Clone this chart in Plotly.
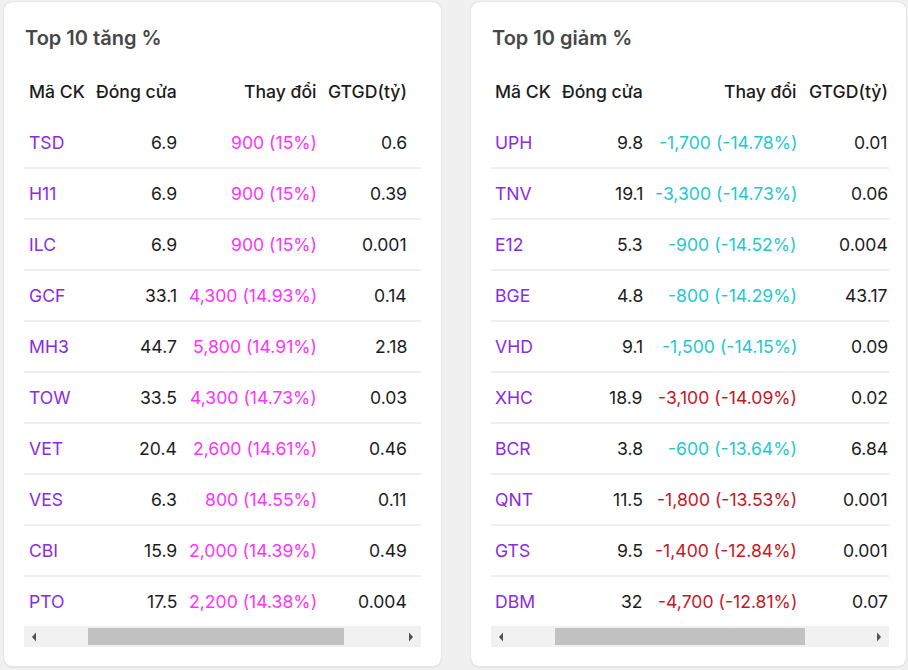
import plotly.graph_objects as go

# ---------------- data ----------------
titles = ["Top 10 tăng %", "Top 10 giảm %"]
headers = ["Mã CK", "Đóng cửa", "Thay đổi", "GTGD(tỷ)"]

up_codes = ["TSD", "H11", "ILC", "GCF", "MH3", "TOW", "VET", "VES", "CBI", "PTO"]
up_close = [6.9, 6.9, 6.9, 33.1, 44.7, 33.5, 20.4, 6.3, 15.9, 17.5]
up_change = [900, 900, 900, 4300, 5800, 4300, 2600, 800, 2000, 2200]
up_pct = [15, 15, 15, 14.93, 14.91, 14.73, 14.61, 14.55, 14.39, 14.38]
up_value = [0.6, 0.39, 0.001, 0.14, 2.18, 0.03, 0.46, 0.11, 0.49, 0.004]
up_kind = ["ceil"] * 10

down_codes = ["UPH", "TNV", "E12", "BGE", "VHD", "XHC", "BCR", "QNT", "GTS", "DBM"]
down_close = [9.8, 19.1, 5.3, 4.8, 9.1, 18.9, 3.8, 11.5, 9.5, 32]
down_change = [-1700, -3300, -900, -800, -1500, -3100, -600, -1800, -1400, -4700]
down_pct = [-14.78, -14.73, -14.52, -14.29, -14.15, -14.09, -13.64, -13.53, -12.84, -12.81]
down_value = [0.01, 0.06, 0.004, 43.17, 0.09, 0.02, 6.84, 0.001, 0.001, 0.07]
down_kind = ["floor", "floor", "floor", "floor", "floor", "down", "floor", "down", "down", "down"]

# ---------------- style ----------------
W, H = 908, 670
BG = "#f0f0f0"
FONT = "Inter"
KIND_COLOR = {"ceil": "#ff33ff", "floor": "#1fc8cf", "down": "#c8161d"}
CODE_COLOR = "#8a2be2"
TEXT_COLOR = "#1c1c1c"
SIZE = 17.6
PAD = 2  # annotation inner padding compensation

panels = [
    dict(codes=up_codes, close=up_close, change=up_change, pct=up_pct, value=up_value, kind=up_kind,
         card=(4, 441), left=24, right=421, cols=(29, 177, 317, 407), title_x=25, thumb=(88, 344)),
    dict(codes=down_codes, close=down_close, change=down_change, pct=down_pct, value=down_value, kind=down_kind,
         card=(471, 906), left=491, right=889, cols=(495, 643, 797, 888), title_x=492, thumb=(555, 805)),
]

# row index axis: row i centred at pixel 142 + 51*i
ROW0, STEP = 142.5, 51
y_top = -ROW0 / STEP
y_bot = (H - ROW0) / STEP


def yp(px):
    return 1 - px / H


def fmt(v):
    return f"{v:g}"


def fmt_change(c, p):
    return f"{c:,} ({p:g}%)"


fig = go.Figure()
fig.add_trace(go.Scatter(x=[0], y=[0], mode="markers", marker=dict(opacity=0), hoverinfo="skip", showlegend=False))

shapes = []
ann = []


def rrect(x0, x1, y0, y1, r):
    a, b = yp(y0), yp(y1)
    ry = r / H
    return (f"M {x0+r},{a} L {x1-r},{a} Q {x1},{a} {x1},{a-ry} L {x1},{b+ry} Q {x1},{b} {x1-r},{b} "
            f"L {x0+r},{b} Q {x0},{b} {x0},{b+ry} L {x0},{a-ry} Q {x0},{a} {x0+r},{a} Z")


for k, p in enumerate(panels):
    cx0, cx1 = p["card"]
    shapes.append(dict(type="path", xref="x", yref="paper", path=rrect(cx0 - 1, cx1 + 1, 1, 668, 11),
                       fillcolor="#e6e6e6", line=dict(width=0), layer="below"))
    shapes.append(dict(type="path", xref="x", yref="paper", path=rrect(cx0, cx1, 2, 666, 10),
                       fillcolor="white", line=dict(width=0), layer="below"))
    ann.append(dict(x=p["title_x"] - PAD, y=yp(37.5), xref="x", yref="paper", text=titles[k],
                    showarrow=False, xanchor="left", yanchor="middle",
                    font=dict(family=FONT, size=20, color="#474747", weight=600)))
    c0, c1, c2, c3 = p["cols"]
    xs = (c0 - PAD, c1 + PAD, c2 + PAD, c3 + PAD)
    for txt, xx, anc in zip(headers, xs, ("left", "right", "right", "right")):
        ann.append(dict(x=xx, y=-1, xref="x", yref="y", text=txt, showarrow=False, xanchor=anc, yanchor="middle",
                        font=dict(family=FONT, size=SIZE, color=TEXT_COLOR, weight=500)))
    for i in range(len(p["codes"])):
        ann.append(dict(x=xs[0], y=i, xref="x", yref="y", text=p["codes"][i], showarrow=False, xanchor="left",
                        yanchor="middle", font=dict(family=FONT, size=SIZE, color=CODE_COLOR)))
        ann.append(dict(x=xs[1], y=i, xref="x", yref="y", text=fmt(p["close"][i]), showarrow=False, xanchor="right",
                        yanchor="middle", font=dict(family=FONT, size=SIZE, color=TEXT_COLOR)))
        ann.append(dict(x=xs[2], y=i, xref="x", yref="y", text=fmt_change(p["change"][i], p["pct"][i]),
                        showarrow=False, xanchor="right", yanchor="middle",
                        font=dict(family=FONT, size=SIZE, color=KIND_COLOR[p["kind"][i]])))
        ann.append(dict(x=xs[3], y=i, xref="x", yref="y", text=fmt(p["value"][i]), showarrow=False, xanchor="right",
                        yanchor="middle", font=dict(family=FONT, size=SIZE, color=TEXT_COLOR)))
        if i < len(p["codes"]) - 1:
            shapes.append(dict(type="line", xref="x", yref="y", x0=p["left"], x1=p["right"], y0=i + 0.5, y1=i + 0.5,
                               line=dict(color="#dedede", width=1)))
    L, R = p["left"], p["right"]
    shapes.append(dict(type="rect", xref="x", yref="paper", x0=L, x1=R, y0=yp(647), y1=yp(626),
                       fillcolor="#f1f1f1", line=dict(width=0)))
    t0, t1 = p["thumb"]
    shapes.append(dict(type="rect", xref="x", yref="paper", x0=t0, x1=t1, y0=yp(645), y1=yp(628),
                       fillcolor="#c1c1c1", line=dict(width=0)))
    shapes.append(dict(type="path", xref="x", yref="paper",
                       path=f"M {L+12},{yp(632.5)} L {L+12},{yp(641.5)} L {L+8},{yp(637)} Z",
                       fillcolor="#505050", line=dict(width=0)))
    shapes.append(dict(type="path", xref="x", yref="paper",
                       path=f"M {R-12},{yp(632.5)} L {R-12},{yp(641.5)} L {R-8},{yp(637)} Z",
                       fillcolor="#505050", line=dict(width=0)))

fig.update_layout(
    width=W, height=H,
    margin=dict(l=0, r=0, t=0, b=0),
    paper_bgcolor=BG, plot_bgcolor=BG,
    xaxis=dict(range=[0, W], visible=False, fixedrange=True),
    yaxis=dict(range=[y_bot, y_top], visible=False, fixedrange=True),
    shapes=shapes, annotations=ann, showlegend=False,
    font=dict(family=FONT),
)

fig.write_html("out.html", config={"displayModeBar": False},
               post_script="document.body.style.margin='0';document.body.style.overflow='hidden';"
                           "document.body.style.background='" + BG + "';")
